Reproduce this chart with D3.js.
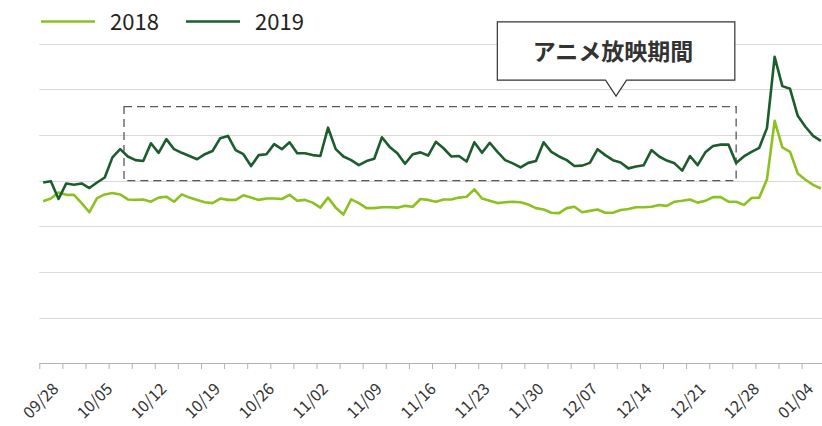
<!DOCTYPE html>
<html>
<head>
<meta charset="utf-8">
<script src="https://cdn.jsdelivr.net/npm/d3@7"></script>
<style>
  body { margin: 0; background: #fff; }
  svg { display: block; font-family: "Noto Sans CJK JP", "Noto Sans", sans-serif; }
</style>
</head>
<body>
<svg id="chart" width="822" height="426"></svg>
<script>
// daily categories 09/28 .. 01/07
const days = d3.timeDay.range(new Date(2019, 8, 28), new Date(2020, 0, 8));

const series2018 = [
  35.5, 36.1, 37.4, 36.9, 36.9, 35.1, 33.1, 36.2, 37.0, 37.3,
  37.0, 35.9, 35.8, 35.9, 35.4, 36.3, 36.5, 35.4, 37.0, 36.3,
  35.8, 35.3, 35.1, 36.1, 35.8, 35.8, 36.8, 36.3, 35.8, 36.1,
  36.1, 36.0, 36.9, 35.6, 35.8, 35.2, 34.1, 36.3, 34.1, 32.6,
  35.9, 35.1, 34.0, 34.0, 34.2, 34.2, 34.1, 34.5, 34.3, 36.0,
  35.8, 35.4, 35.9, 35.9, 36.3, 36.5, 38.1, 36.1, 35.6, 35.1,
  35.3, 35.4, 35.3, 34.8, 34.0, 33.7, 33.0, 32.9, 34.0, 34.3,
  33.1, 33.4, 33.7, 33.0, 33.0, 33.6, 33.8, 34.2, 34.2, 34.3,
  34.7, 34.5, 35.4, 35.6, 35.9, 35.2, 35.6, 36.4, 36.4, 35.4,
  35.4, 34.7, 36.2, 36.3, 40.3, 53.1, 47.3, 46.3, 41.6, 40.2,
  39.1, 38.3
];

const series2019 = [
  39.6, 39.9, 36.0, 39.4, 39.1, 39.4, 38.4, 39.6, 40.7, 45.1,
  46.9, 45.3, 44.5, 44.3, 48.2, 46.1, 49.1, 46.9, 46.1, 45.4,
  44.7, 45.8, 46.5, 49.3, 49.8, 46.7, 45.8, 43.2, 45.6, 45.8,
  48.0, 46.9, 48.4, 46.0, 46.0, 45.6, 45.4, 51.6, 46.9, 45.3,
  44.5, 43.4, 44.3, 44.8, 49.5, 47.4, 46.0, 43.7, 45.8, 46.2,
  45.5, 48.5, 47.1, 45.3, 45.4, 44.2, 48.4, 46.1, 48.3, 46.3,
  44.5, 43.8, 42.9, 43.9, 44.3, 48.4, 46.3, 45.3, 44.5, 43.2,
  43.3, 43.9, 46.9, 45.6, 44.5, 44.0, 42.7, 43.1, 43.4, 46.7,
  45.3, 44.4, 43.8, 42.2, 45.4, 43.4, 46.2, 47.6, 47.9, 47.9,
  43.9, 45.3, 46.3, 47.2, 51.5, 67.1, 60.7, 60.1, 54.2, 51.8,
  49.8, 48.7
];

const tickLabels = ["09/28", "10/05", "10/12", "10/19", "10/26", "11/02", "11/09",
  "11/16", "11/23", "11/30", "12/07", "12/14", "12/21", "12/28", "01/04"];
const gridValues = [10, 20, 30, 40, 50, 60, 70];

// anime broadcast period (day index, value range)
const periodStart = 10.5, periodEnd = 90;
const periodLow = 40, periodHigh = 56.2;
const calloutText = "アニメ放映期間";

const legendItems = [
  { name: "2018", color: "#8cc11f", data: series2018 },
  { name: "2019", color: "#1d5c2c", data: series2019 }
];

const svg = d3.select("#chart");

const x = d3.scaleLinear().domain([-0.5, 101.15]).range([39.3, 822]);
const y = d3.scaleLinear().domain([0, 70]).range([363.5, 43.6]);

// gridlines
svg.append("g")
  .selectAll("line")
  .data(gridValues)
  .enter()
  .append("line")
  .attr("x1", x(-0.5))
  .attr("x2", 822)
  .attr("y1", d => Math.round(y(d)) + 0.5)
  .attr("y2", d => Math.round(y(d)) + 0.5)
  .attr("stroke", "#d9d9d9")
  .attr("stroke-width", 1);

// x axis ticks (every 3 days, between categories)
const xAxis = svg.append("g")
  .attr("transform", "translate(0,363)")
  .call(d3.axisBottom(x)
    .tickValues(d3.range(-0.5, 101, 3))
    .tickSize(6)
    .tickSizeOuter(0)
    .tickFormat(""));
xAxis.select(".domain").attr("stroke", "#b3b3b3");
xAxis.selectAll(".tick line").attr("stroke", "#b3b3b3");

// x labels every week
const labelAxis = svg.append("g")
  .attr("transform", "translate(0,363)")
  .call(d3.axisBottom(x)
    .tickValues(tickLabels.map((d, i) => i * 7))
    .tickSize(0)
    .tickFormat((d, i) => tickLabels[i]));
labelAxis.select(".domain").remove();
labelAxis.selectAll("text")
  .attr("x", 0)
  .attr("y", 0)
  .attr("dy", 0)
  .attr("text-anchor", "end")
  .attr("transform", "translate(16,27) rotate(-45)")
  .attr("font-family", "'Noto Sans CJK JP', sans-serif")
  .attr("font-size", 16)
  .attr("fill", "#333");

// period box
svg.append("rect")
  .attr("x", x(periodStart))
  .attr("y", y(periodHigh))
  .attr("width", x(periodEnd) - x(periodStart))
  .attr("height", y(periodLow) - y(periodHigh))
  .attr("fill", "none")
  .attr("stroke", "#595959")
  .attr("stroke-width", 1.3)
  .attr("stroke-dasharray", "8,5");

// lines
const line = d3.line()
  .x((d, i) => x(i))
  .y(d => y(d));

svg.append("g")
  .selectAll("path")
  .data(legendItems)
  .enter()
  .append("path")
  .attr("d", d => line(d.data))
  .attr("fill", "none")
  .attr("stroke", d => d.color)
  .attr("stroke-width", 2.6)
  .attr("stroke-linejoin", "round");

// callout
const tipX = x(74.4), tipY = y(58.5);
const boxW = 237.5, boxH = 58.3, boxGap = 16, tipLeft = 118.7, notch = 10.5;
const bx = tipX - tipLeft, by = tipY - boxGap - boxH;
svg.append("path")
  .attr("d", `M${bx},${by} H${bx + boxW} V${by + boxH} H${tipX + notch} L${tipX},${tipY} L${tipX - notch},${by + boxH} H${bx} Z`)
  .attr("fill", "#fff")
  .attr("stroke", "#333")
  .attr("stroke-width", 1.2);
svg.append("text")
  .attr("x", bx + boxW / 2 - 3)
  .attr("y", by + 38)
  .attr("text-anchor", "middle")
  .attr("font-size", 23)
  .attr("font-weight", "bold")
  .attr("fill", "#333")
  .text(calloutText);

// legend
const legend = svg.append("g");
const legendX = [41, 186];
legendItems.forEach((d, i) => {
  const g = legend.append("g").attr("transform", `translate(${legendX[i]},21.5)`);
  g.append("line")
    .attr("x1", 0).attr("x2", 54)
    .attr("stroke", d.color)
    .attr("stroke-width", 2.6);
  g.append("text")
    .attr("x", 69)
    .attr("y", 8)
    .attr("font-size", 22)
    .attr("fill", "#222")
    .text(d.name);
});
</script>
</body>
</html>
